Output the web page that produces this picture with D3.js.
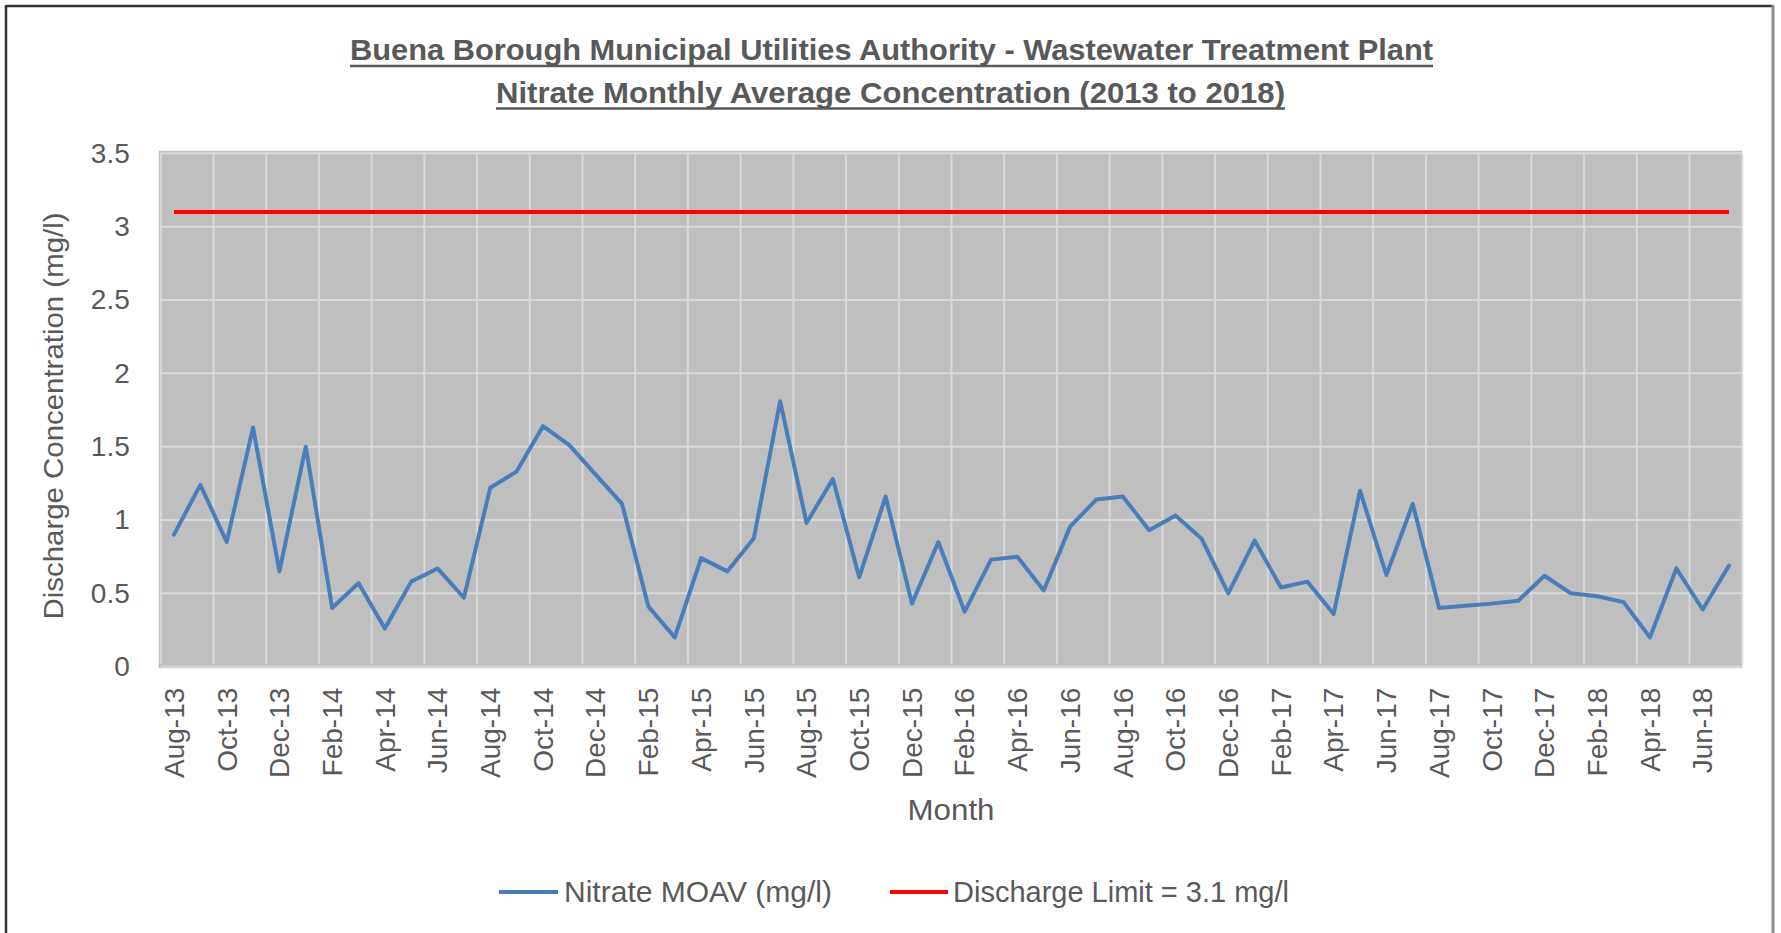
<!DOCTYPE html>
<html>
<head>
<meta charset="utf-8">
<script src="https://cdn.jsdelivr.net/npm/d3@7/dist/d3.min.js"></script>
<style>
  html, body { margin: 0; padding: 0; background: #ffffff; }
  svg { display: block; }
</style>
</head>
<body>
<svg id="chart" width="1781" height="933"></svg>
<script>
// ---------------- DATA ----------------
const titleLines = [
  "Buena Borough Municipal Utilities Authority - Wastewater Treatment Plant",
  "Nitrate Monthly Average Concentration (2013 to 2018)"
];
const categories = [
  "Aug-13","Sep-13","Oct-13","Nov-13","Dec-13","Jan-14","Feb-14","Mar-14","Apr-14","May-14",
  "Jun-14","Jul-14","Aug-14","Sep-14","Oct-14","Nov-14","Dec-14","Jan-15","Feb-15","Mar-15",
  "Apr-15","May-15","Jun-15","Jul-15","Aug-15","Sep-15","Oct-15","Nov-15","Dec-15","Jan-16",
  "Feb-16","Mar-16","Apr-16","May-16","Jun-16","Jul-16","Aug-16","Sep-16","Oct-16","Nov-16",
  "Dec-16","Jan-17","Feb-17","Mar-17","Apr-17","May-17","Jun-17","Jul-17","Aug-17","Sep-17",
  "Oct-17","Nov-17","Dec-17","Jan-18","Feb-18","Mar-18","Apr-18","May-18","Jun-18","Jul-18"
];
const nitrateValues = [
  0.90, 1.24, 0.85, 1.63, 0.65, 1.50, 0.40, 0.57, 0.26, 0.58,
  0.67, 0.47, 1.22, 1.33, 1.64, 1.51, 1.31, 1.11, 0.41, 0.20,
  0.74, 0.65, 0.875, 1.81, 0.98, 1.28, 0.61, 1.16, 0.43, 0.85,
  0.375, 0.73, 0.75, 0.52, 0.955, 1.14, 1.16, 0.93, 1.03, 0.87,
  0.50, 0.86, 0.54, 0.58, 0.36, 1.20, 0.625, 1.11, 0.40, 0.415,
  0.43, 0.45, 0.62, 0.50, 0.48, 0.44, 0.20, 0.67, 0.39, 0.69
];
const dischargeLimit = 3.1;
const xTickLabels = [
  "Aug-13","Oct-13","Dec-13","Feb-14","Apr-14","Jun-14","Aug-14","Oct-14","Dec-14","Feb-15",
  "Apr-15","Jun-15","Aug-15","Oct-15","Dec-15","Feb-16","Apr-16","Jun-16","Aug-16","Oct-16",
  "Dec-16","Feb-17","Apr-17","Jun-17","Aug-17","Oct-17","Dec-17","Feb-18","Apr-18","Jun-18"
];
const yTicks = [0, 0.5, 1, 1.5, 2, 2.5, 3, 3.5];
const yAxisTitle = "Discharge Concentration (mg/l)";
const xAxisTitle = "Month";
const seriesNames = ["Nitrate MOAV (mg/l)", "Discharge Limit = 3.1 mg/l"];

// ---------------- LAYOUT ----------------
const svg = d3.select("#chart");
const plot = { left: 160.8, right: 1742.2, top: 153.3, bottom: 666.7 };
const textColor = "#595959";
const font = "'Liberation Sans', Arial, sans-serif";
const blue = "#4a7ebb";
const red = "#ff0000";
const gridColor = "#d9d9d9";

// Border frame
svg.append("line").attr("x1", 6).attr("x2", 1773).attr("y1", 6).attr("y2", 6)
  .attr("stroke", "#333").attr("stroke-width", 2.5);
svg.append("line").attr("x1", 6).attr("x2", 6).attr("y1", 5).attr("y2", 940)
  .attr("stroke", "#333").attr("stroke-width", 2.5);
svg.append("line").attr("x1", 1773).attr("x2", 1773).attr("y1", 5).attr("y2", 940)
  .attr("stroke", "#8a8a8a").attr("stroke-width", 3);

// Scales
const x = d3.scaleBand().domain(categories).range([plot.left, plot.right]).padding(0);
const bw = x.bandwidth();
const cx = c => x(c) + bw / 2;
const y = d3.scaleLinear().domain([0, 3.5]).range([plot.bottom, plot.top]);

// Plot background
svg.append("rect")
  .attr("x", plot.left - 2).attr("y", plot.top - 2.5)
  .attr("width", plot.right - plot.left + 2).attr("height", plot.bottom - plot.top + 4)
  .attr("fill", "#bfbfbf");

// Horizontal gridlines
svg.append("g").selectAll("line").data(yTicks).join("line")
  .attr("x1", plot.left).attr("x2", plot.right)
  .attr("y1", d => y(d)).attr("y2", d => y(d))
  .attr("stroke", gridColor).attr("stroke-width", 2);

// Vertical gridlines at every second category boundary
const boundaryCats = categories.filter((c, i) => i % 2 === 0);
svg.append("g").selectAll("line").data(boundaryCats).join("line")
  .attr("x1", d => x(d)).attr("x2", d => x(d))
  .attr("y1", plot.top).attr("y2", plot.bottom - 3)
  .attr("stroke", gridColor).attr("stroke-width", 2);
svg.append("line")
  .attr("x1", plot.right).attr("x2", plot.right)
  .attr("y1", plot.top).attr("y2", plot.bottom - 3)
  .attr("stroke", gridColor).attr("stroke-width", 2);

// Y axis
const yAxis = svg.append("g")
  .attr("transform", `translate(${plot.left},0)`)
  .call(d3.axisLeft(y).tickValues(yTicks).tickSize(0).tickPadding(31)
        .tickFormat(d => String(d)));
yAxis.select(".domain").remove();
yAxis.selectAll("text")
  .attr("fill", textColor).style("font-family", font).style("font-size", "28px");

// X axis
const xAxis = svg.append("g")
  .attr("transform", `translate(0,${plot.bottom})`)
  .call(d3.axisBottom(x).tickValues(xTickLabels).tickSize(0));
xAxis.select(".domain").remove();
xAxis.selectAll("text")
  .attr("transform", "rotate(-90)")
  .attr("text-anchor", "end")
  .attr("x", -21).attr("y", 0).attr("dy", "0.35em")
  .attr("fill", textColor).style("font-family", font).style("font-size", "28px");

// Lines
const nitrateLine = d3.line()
  .x((d, i) => cx(categories[i]))
  .y(d => y(d));
svg.append("path").datum(nitrateValues)
  .attr("d", nitrateLine)
  .attr("fill", "none").attr("stroke", blue).attr("stroke-width", 4)
  .attr("stroke-linejoin", "round").attr("stroke-linecap", "round");

const limitLine = d3.line()
  .x(c => cx(c))
  .y(() => y(dischargeLimit));
svg.append("path").datum(categories)
  .attr("d", limitLine)
  .attr("fill", "none").attr("stroke", red).attr("stroke-width", 4);

// Title
const titleSpecs = [
  { x: 350, w: 1083, base: 60, ul: 66 },
  { x: 496, w: 789, base: 103, ul: 108.5 }
];
titleLines.forEach((t, i) => {
  const s = titleSpecs[i];
  svg.append("text")
    .attr("x", s.x).attr("y", s.base)
    .attr("textLength", s.w).attr("lengthAdjust", "spacingAndGlyphs")
    .attr("fill", textColor)
    .style("font-family", font).style("font-size", "30px").style("font-weight", "bold")
    .text(t);
  svg.append("line")
    .attr("x1", s.x).attr("x2", s.x + s.w)
    .attr("y1", s.ul).attr("y2", s.ul)
    .attr("stroke", textColor).attr("stroke-width", 2.5);
});

// Axis titles
svg.append("text")
  .attr("transform", "translate(63,416) rotate(-90)")
  .attr("text-anchor", "middle")
  .attr("textLength", 407).attr("lengthAdjust", "spacingAndGlyphs")
  .attr("fill", textColor).style("font-family", font).style("font-size", "28px")
  .text(yAxisTitle);

svg.append("text")
  .attr("x", 951).attr("y", 820)
  .attr("text-anchor", "middle")
  .attr("textLength", 87).attr("lengthAdjust", "spacingAndGlyphs")
  .attr("fill", textColor).style("font-family", font).style("font-size", "30px")
  .text(xAxisTitle);

// Legend
const legendSpecs = [
  { lx1: 499, lx2: 558, tx: 564, tw: 268, color: blue },
  { lx1: 890, lx2: 948, tx: 953, tw: 336, color: red }
];
seriesNames.forEach((name, i) => {
  const s = legendSpecs[i];
  svg.append("line")
    .attr("x1", s.lx1).attr("x2", s.lx2).attr("y1", 892).attr("y2", 892)
    .attr("stroke", s.color).attr("stroke-width", 4);
  svg.append("text")
    .attr("x", s.tx).attr("y", 902)
    .attr("textLength", s.tw).attr("lengthAdjust", "spacingAndGlyphs")
    .attr("fill", textColor).style("font-family", font).style("font-size", "29px")
    .text(name);
});
</script>
</body>
</html>
